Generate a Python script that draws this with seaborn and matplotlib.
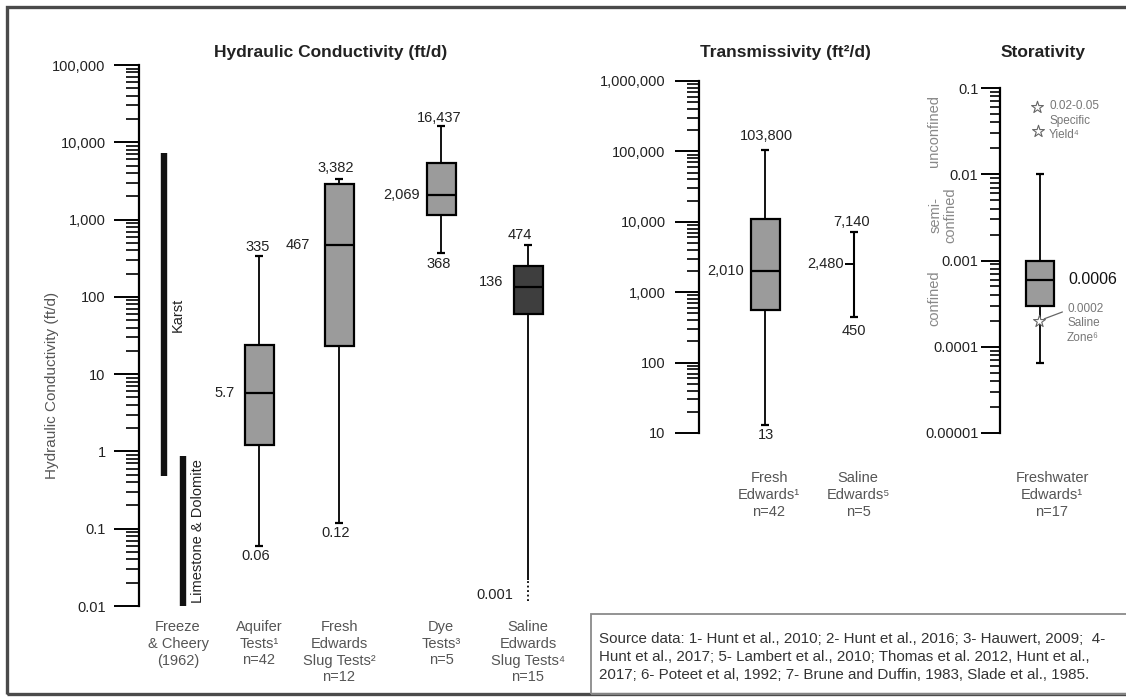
import numpy as np
import pandas as pd
import matplotlib
matplotlib.use("Agg")
import matplotlib.pyplot as plt
from matplotlib.ticker import FixedLocator, FixedFormatter, LogLocator, NullFormatter
from matplotlib.patches import Rectangle
import seaborn as sns

# ---------------- data ----------------
# Hydraulic conductivity (ft/d): min, q1, median, q3, max
hc_groups = ["Aquifer Tests", "Fresh Edwards Slug Tests", "Dye Tests", "Saline Edwards Slug Tests"]
hc_min = [0.06, 0.12, 368, 0.001]
hc_q1 = [1.2, 23, 1160, 60]
hc_median = [5.7, 467, 2069, 136]
hc_q3 = [24, 2860, 5350, 252]
hc_max = [335, 3382, 16437, 474]
hc_category_labels = ["Freeze\n& Cheery\n(1962)", "Aquifer\nTests¹\nn=42",
                      "Fresh\nEdwards\nSlug Tests²\nn=12", "Dye\nTests³\nn=5",
                      "Saline\nEdwards\nSlug Tests⁴\nn=15"]
freeze_cheery_karst = [0.48, 7200]
freeze_cheery_limestone = [0.01, 0.86]
hc_ticks = [0.01, 0.1, 1, 10, 100, 1000, 10000, 100000]
hc_ticklabels = ["0.01", "0.1", "1", "10", "100", "1,000", "10,000", "100,000"]

# Transmissivity (ft2/d)
tr_fresh = [13, 555, 2010, 11000, 103800]      # min, q1, median, q3, max
tr_saline = [450, 2480, 7140]                   # min, median, max
tr_category_labels = ["Fresh\nEdwards¹\nn=42", "Saline\nEdwards⁵\nn=5"]
tr_ticks = [10, 100, 1000, 1e4, 1e5, 1e6]
tr_ticklabels = ["10", "100", "1,000", "10,000", "100,000", "1,000,000"]

# Storativity
st_fresh = [0.000065, 0.0003, 0.0006, 0.001, 0.01]  # min, q1, median, q3, max
st_specific_yield = [0.06, 0.032]
st_saline_zone = 0.0002
st_category_label = "Freshwater\nEdwards¹\nn=17"
st_ticks = [1e-5, 1e-4, 1e-3, 1e-2, 1e-1]
st_ticklabels = ["0.00001", "0.0001", "0.001", "0.01", "0.1"]

source_lines = [
    "Source data: 1- Hunt et al., 2010; 2- Hunt et al., 2016; 3- Hauwert, 2009;  4-",
    "Hunt et al., 2017; 5- Lambert et al., 2010; Thomas et al. 2012, Hunt et al.,",
    "2017; 6- Poteet et al, 1992; 7- Brune and Duffin, 1983, Slade et al., 1985.",
]

# ---------------- layout (pixels) ----------------
W, H = 1126, 698
hc_x = [259, 339, 441, 528]
fc_x = [164, 183]
tr_x = [765, 854]
st_x = 1040

sns.set_theme(style="white")
plt.rcParams["font.family"] = ["Liberation Sans", "DejaVu Sans"]

fig = plt.figure(figsize=(W / 100, H / 100), dpi=100)
fig.patch.set_facecolor("white")


def add_axes_px(x0, x1, ytop, ybot):
    ax = fig.add_axes([x0 / W, 1 - ybot / H, (x1 - x0) / W, (ybot - ytop) / H])
    ax.patch.set_alpha(0)
    return ax


def ftext(px, py, s, **kw):
    return fig.text(px / W, 1 - py / H, s, **kw)


def fmt(v):
    return f"{v:,.0f}" if v >= 100 else f"{v:g}"


def draw_box(ax, x, stats, face, width):
    df = pd.DataFrame({"x": [x] * len(stats), "v": stats})
    sns.boxplot(data=df, x="x", y="v", native_scale=True, log_scale=(False, True),
                whis=np.inf, width=width, color=face, saturation=1,
                linecolor="black", linewidth=1.6, showcaps=False, orient="x",
                whiskerprops={"linewidth": 1.3}, ax=ax)
    ax.hlines([min(stats), max(stats)], x - 4, x + 4, color="black", lw=1.6, zorder=5)


def style_axis(ax, x0, x1, ylim, ticks, labels, majlen, minlen, pad):
    ax.set_xlim(x0, x1)
    ax.set_yscale("log")
    ax.set_ylim(*ylim)
    ax.yaxis.set_major_locator(FixedLocator(ticks))
    ax.yaxis.set_major_formatter(FixedFormatter(labels))
    ax.yaxis.set_minor_locator(LogLocator(base=10, subs=np.arange(2, 10), numticks=100))
    ax.yaxis.set_minor_formatter(NullFormatter())
    ax.tick_params(axis="y", which="major", direction="out", length=majlen, width=1.4,
                   pad=pad, labelsize=10.5, labelcolor="#222", color="black", left=True)
    ax.tick_params(axis="y", which="minor", direction="out", length=minlen, width=1.2,
                   color="black", left=True)
    ax.set_xticks([])
    ax.set_xlabel("")
    ax.set_ylabel("")
    for s in ["top", "right", "bottom"]:
        ax.spines[s].set_visible(False)
    ax.spines["left"].set_linewidth(1.6)
    ax.spines["left"].set_color("black")
    ax.grid(False)


def vlabel(ax, x, y, s, dx, dy, ha="center", size=10.5, color="#222", xycoords="data"):
    ax.annotate(s, xy=(x, y), xycoords=xycoords, xytext=(dx, dy), textcoords="offset pixels",
                ha=ha, va="center", fontsize=size, color=color, annotation_clip=False)


# ---------------- Hydraulic conductivity ----------------
ax1 = add_axes_px(139, 580, 65, 606)
box_colors = ["#9b9b9b", "#9b9b9b", "#9b9b9b", "#3e3e3e"]
for i in range(len(hc_groups)):
    stats = [hc_min[i], hc_q1[i], hc_median[i], hc_q3[i], hc_max[i]]
    draw_box(ax1, hc_x[i], stats, box_colors[i], 29)
style_axis(ax1, 139, 580, (hc_ticks[0], hc_ticks[-1]), hc_ticks, hc_ticklabels, 18, 9.5, 6)
# Freeze & Cheery ranges
ax1.vlines(fc_x[0], *freeze_cheery_karst, color="#111", lw=4.6, capstyle="butt")
ax1.vlines(fc_x[1], *freeze_cheery_limestone, color="#111", lw=4.6, capstyle="butt")
ax1.text(178, np.sqrt(freeze_cheery_karst[0] * freeze_cheery_karst[1]), "Karst",
         rotation=90, ha="center", va="center", fontsize=10.5, color="#222")
ax1.text(198, np.sqrt(freeze_cheery_limestone[0] * freeze_cheery_limestone[1]),
         "Limestone & Dolomite", rotation=90, ha="center", va="center", fontsize=10.5, color="#222")
# saline whisker below axis: dotted end
ax1.vlines(hc_x[3], 0.01, 0.022, color="white", lw=3, zorder=6)
ax1.vlines(hc_x[3], 0.0115, 0.022, color="black", lw=1.3, linestyles=(0, (1, 1.5)), zorder=7)

max_off = [(-1, 9), (-3, 11), (-2, 8), (-8, 10)]
med_off = [(-34, 0), (-41, 0), (-39, 0), (-37, 5)]
min_off = [(-3, -10), (-3, -10), (-2, -11)]
for i in range(4):
    vlabel(ax1, hc_x[i], hc_max[i], fmt(hc_max[i]), *max_off[i])
    vlabel(ax1, hc_x[i], hc_median[i], fmt(hc_median[i]), *med_off[i])
for i in range(3):
    vlabel(ax1, hc_x[i], hc_min[i], fmt(hc_min[i]), *min_off[i])
ax1.annotate(fmt(hc_min[3]), xy=(hc_x[3], 0.01), xytext=(-33, 11), textcoords="offset pixels",
             ha="center", va="center", fontsize=10.5, color="#222", annotation_clip=False)

# ---------------- Transmissivity ----------------
ax2 = add_axes_px(699, 900, 81, 433)
draw_box(ax2, tr_x[0], tr_fresh, "#9b9b9b", 29)
style_axis(ax2, 699, 900, (tr_ticks[0], tr_ticks[-1]), tr_ticks, tr_ticklabels, 17, 9, 7)
ax2.vlines(tr_x[1], tr_saline[0], tr_saline[2], color="black", lw=1.5)
ax2.hlines([tr_saline[0], tr_saline[2]], tr_x[1] - 4, tr_x[1] + 4, color="black", lw=1.6)
ax2.hlines(tr_saline[1], tr_x[1] - 9, tr_x[1], color="black", lw=1.4)
vlabel(ax2, tr_x[0], tr_fresh[4], fmt(tr_fresh[4]), 1, 14)
vlabel(ax2, tr_x[0], tr_fresh[2], fmt(tr_fresh[2]), -39, 0)
vlabel(ax2, tr_x[0], tr_fresh[0], fmt(tr_fresh[0]), 1, -10)
vlabel(ax2, tr_x[1], tr_saline[2], fmt(tr_saline[2]), -2, 10)
vlabel(ax2, tr_x[1], tr_saline[1], fmt(tr_saline[1]), -10, 0, ha="right")
vlabel(ax2, tr_x[1], tr_saline[0], fmt(tr_saline[0]), 0, -14)

# ---------------- Storativity ----------------
ax3 = add_axes_px(1000, 1126, 88, 433)
draw_box(ax3, st_x, st_fresh, "#9b9b9b", 28)
style_axis(ax3, 1000, 1126, (st_ticks[0], st_ticks[-1]), st_ticks, st_ticklabels, 13.5, 7, 2)
vlabel(ax3, st_x, st_fresh[2], fmt(st_fresh[2]), 28, 0, ha="left", size=11.5, color="#111")
ax3.scatter([1037, 1038], st_specific_yield, marker="*", s=80, facecolor="white",
            edgecolor="#666", linewidth=0.8, zorder=6, clip_on=False)
ax3.scatter([st_x - 1], [st_saline_zone], marker="*", s=80, facecolor="white",
            edgecolor="#666", linewidth=0.8, zorder=6, clip_on=False)
ax3.annotate("0.0002\nSaline\nZone⁶", xy=(st_x - 1, st_saline_zone), xytext=(28, 18),
             textcoords="offset pixels", ha="left", va="top", fontsize=8.5, color="#777",
             linespacing=1.3, annotation_clip=False,
             arrowprops=dict(arrowstyle="-", color="#666", lw=0.9, shrinkA=1, shrinkB=4,
                             relpos=(0, 0.82)))
ftext(1049, 100, "0.02-0.05\nSpecific\nYield⁴", ha="left", va="top", fontsize=8.5,
      color="#777", linespacing=1.3)

# ---------------- titles, labels ----------------
ftext(331, 52, "Hydraulic Conductivity (ft/d)", ha="center", va="center",
      fontsize=12.5, fontweight="bold", color="#222")
ftext(785, 53, "Transmissivity (ft²/d)", ha="center", va="center",
      fontsize=12.5, fontweight="bold", color="#222")
ftext(1043, 53, "Storativity", ha="center", va="center",
      fontsize=12.5, fontweight="bold", color="#222")
ftext(52, 385, "Hydraulic Conductivity (ft/d)", rotation=90, ha="center", va="center",
      fontsize=11, color="#555")

ftext(934, 131, "unconfined", rotation=90, ha="center", va="center", fontsize=10.5, color="#888")
ftext(943, 215, "semi-\nconfined", rotation=90, ha="center", va="center", fontsize=10.5,
      color="#888", multialignment="center", linespacing=1.15)
ftext(934, 298, "confined", rotation=90, ha="center", va="center", fontsize=10.5, color="#888")

cat_x_hc = [178] + hc_x
for x, s in zip(cat_x_hc, hc_category_labels):
    ftext(x, 620, s, ha="center", va="top", fontsize=10.5, color="#555",
          linespacing=1.25, multialignment="center")
for x, s in zip([769, 858], tr_category_labels):
    ftext(x, 471, s, ha="center", va="top", fontsize=10.5, color="#555",
          linespacing=1.25, multialignment="center")
ftext(1052, 471, st_category_label, ha="center", va="top", fontsize=10.5, color="#555",
      linespacing=1.25, multialignment="center")

# ---------------- frames & source box ----------------
fig.add_artist(Rectangle((7 / W, 1 - 694 / H), (1140 - 7) / W, (694 - 7) / H,
                         transform=fig.transFigure, fill=False, ec="#4a4a4a", lw=2.4))
fig.add_artist(Rectangle((591 / W, 1 - 694 / H), (1140 - 591) / W, (694 - 614) / H,
                         transform=fig.transFigure, fill=False, ec="#8a8a8a", lw=1.3))
for i, line in enumerate(source_lines):
    ftext(599, 639 + 18 * i, line, ha="left", va="center", fontsize=10.9, color="#333")

fig.savefig("out.png", dpi=100)
